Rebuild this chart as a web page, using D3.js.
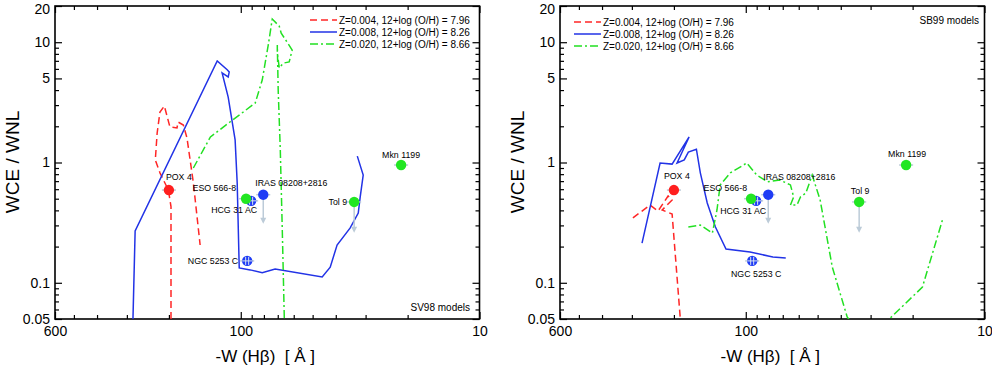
<!DOCTYPE html>
<html>
<head>
<meta charset="utf-8">
<script src="https://cdn.jsdelivr.net/npm/d3@7"></script>
<style>
body { margin: 0; background: #fff; }
svg { display: block; font-family: "Liberation Sans", Arial, sans-serif; }
</style>
</head>
<body>
<svg></svg>
<script>
// galaxies (same in both panels)
var galaxies = ['POX 4', 'ESO 566-8', 'HCG 31 AC', 'IRAS 08208+2816', 'NGC 5253 C', 'Tol 9', 'Mkn 1199'];
var galaxyEW = [200, 95, 90.5, 80.5, 94, 33.5, 21.3];
var galaxyRatio = [0.59, 0.50, 0.48, 0.54, 0.152, 0.47, 0.953];
var galaxyZ = ['Z004', 'Z020', 'Z008', 'Z008', 'Z008', 'Z020', 'Z020'];
var galaxyLimit = [null, null, null, 0.31, null, 0.26, null]; // upper limits -> arrow down to

var legendLabels = ['Z=0.004, 12+log (O/H) = 7.96', 'Z=0.008, 12+log (O/H) = 8.26', 'Z=0.020, 12+log (O/H) = 8.66'];
var xTickLabels = [600, 100, 10];
var yTickLabels = [20, 10, 5, 1, 0.1, 0.05];

// model tracks [ -W(Hb), WCE/WNL ]
var sv98Z004 = [[196,0.05],[196,0.43],[201,0.59],[218,0.82],[228,1.05],[224,1.76],[218,2.63],[209,2.95],[198,1.97],[185,1.94],[183,2.17],[174,2.05],[168,1.6],[158,0.68],[148,0.206]];
var sv98Z008 = [[283,0.048],[277,0.27],[125.5,6.98],[114,5.9],[111.8,5.65],[112.9,5.14],[119.7,5.55],[112.9,3.5],[105.6,1.54],[103.5,0.675],[101.5,0.133],[91.3,0.128],[81.3,0.121],[71.8,0.130],[45.6,0.112],[42.2,0.135],[39.5,0.206],[34.8,0.286],[32.2,0.38],[31.6,0.517],[30.7,0.787],[32.5,1.13]];
var sv98Z020 = [[158,0.90],[134,1.63],[111,2.17],[87,3.12],[81.3,4.85],[76.7,9.5],[73.8,15.6],[69,13.6],[67.7,11.9],[60.9,8.6],[62.7,6.85],[66.4,6.7],[69,6.1],[70.3,8.3],[70.3,9.5],[69.7,4.0],[68.3,1.27],[67,0.275],[65.7,0.05]];

var sb99Z004 = [[297,0.346],[252,0.443],[233,0.395],[211.5,0.527],[203.5,0.488],[224,0.403],[203.5,0.373],[188,0.05]];
var sb99Z008 = [[272,0.214],[228.5,0.99],[203.5,0.97],[172.7,1.63],[194,0.99],[181,1.05],[174,1.22],[161,1.29],[155,0.82],[145,0.461],[134,0.291],[121,0.191],[96,0.180],[77,0.164],[68,0.161]];
var sb99Z020 = [[174,0.291],[155,0.302],[138,0.259],[132,0.403],[128,0.651],[116,0.82],[99,0.99],[90,0.787],[81,0.69],[72,0.716],[65,0.651],[63,0.517],[65,0.443],[61,0.443],[59,0.517],[56,0.558],[52.7,0.787],[48.8,0.488],[43.4,0.135],[37.6,0.052],[30.7,0.03],[24.8,0.051],[18.2,0.092],[15,0.333]];

var colors = { Z004: '#ff2626', Z008: '#2233e6', Z020: '#22e022' };
var dotColors = { Z004: '#ff1f1f', Z008: '#1f3cf5', Z020: '#22e622' };
var dashes = { Z004: '7,4', Z008: null, Z020: '8,3,2,3' };
var zKeys = ['Z004', 'Z008', 'Z020'];

var svgWidth = 992, svgHeight = 365;
var plotW = 424.5, plotH = 313;

var svg = d3.select('svg')
    .attr('width', svgWidth)
    .attr('height', svgHeight);

var x = d3.scaleLog().domain([600, 10]).range([0, plotW]);
var y = d3.scaleLog().domain([0.05, 20]).range([plotH, 0]);

var xMinor = [500, 400, 300, 200, 90, 80, 70, 60, 50, 40, 30, 20];
var yMinor = [9, 8, 7, 6, 4, 3, 2, 0.9, 0.8, 0.7, 0.6, 0.5, 0.4, 0.3, 0.2, 0.09, 0.08, 0.07, 0.06];

var line = d3.line()
    .x(function(d) { return x(d[0]); })
    .y(function(d) { return y(d[1]); });

// label offsets for each panel: [dx, dy, anchor]
var labelsSV98 = {
    'POX 4': [-3, -10, 'start'], 'ESO 566-8': [-10, -8, 'end'], 'HCG 31 AC': [6, 12, 'end'],
    'IRAS 08208+2816': [-8, -9, 'start'], 'NGC 5253 C': [-9, 3, 'end'], 'Tol 9': [-7, 3, 'end'],
    'Mkn 1199': [0, -7, 'middle']
};
var labelsSB99 = {
    'POX 4': [-10, -11, 'start'], 'ESO 566-8': [-4, -8, 'end'], 'HCG 31 AC': [10, 13, 'end'],
    'IRAS 08208+2816': [-5, -15, 'start'], 'NGC 5253 C': [4, 16, 'middle'], 'Tol 9': [1, -8, 'middle'],
    'Mkn 1199': [1, -8, 'middle']
};

function drawPanel(id, left, tracks, labelPos, note, noteX, noteY, legY) {
    var g = svg.append('g').attr('transform', 'translate(' + left + ',6)');

    g.append('clipPath').attr('id', 'clip' + id)
        .append('rect').attr('width', plotW).attr('height', plotH);

    // axes: ticks inward on all four sides
    g.append('g').attr('transform', 'translate(0,' + plotH + ')')
        .call(d3.axisBottom(x).tickValues(xTickLabels).tickSize(-7).tickPadding(7).tickFormat(d3.format('d')));
    g.append('g').attr('transform', 'translate(0,' + plotH + ')')
        .call(d3.axisBottom(x).tickValues(xMinor).tickSize(-4).tickFormat(''));
    g.append('g').call(d3.axisTop(x).tickValues(xTickLabels).tickSize(-7).tickFormat(''));
    g.append('g').call(d3.axisTop(x).tickValues(xMinor).tickSize(-4).tickFormat(''));
    var leftAx = g.append('g')
        .call(d3.axisLeft(y).tickValues(yTickLabels).tickSize(-7).tickPadding(5).tickFormat(function(d) { return String(d); }));
    g.append('g').call(d3.axisLeft(y).tickValues(yMinor).tickSize(-4).tickFormat(''));
    g.append('g').attr('transform', 'translate(' + plotW + ',0)')
        .call(d3.axisRight(y).tickValues(yTickLabels).tickSize(-7).tickFormat(''));
    g.append('g').attr('transform', 'translate(' + plotW + ',0)')
        .call(d3.axisRight(y).tickValues(yMinor).tickSize(-4).tickFormat(''));

    g.selectAll('.domain').remove();
    g.selectAll('.tick line').attr('stroke', '#000').attr('stroke-width', 1.2);
    g.selectAll('.tick text').attr('fill', '#000').style('font-size', '14px');
    // keep the top label inside the page
    leftAx.selectAll('.tick text').filter(function(d) { return d === 20; }).attr('dy', '0.5em');

    g.append('rect').attr('width', plotW).attr('height', plotH)
        .attr('fill', 'none').attr('stroke', '#000').attr('stroke-width', 1.6);

    // model tracks
    var tg = g.append('g').attr('clip-path', 'url(#clip' + id + ')');
    zKeys.forEach(function(k, i) {
        tg.append('path')
            .datum(tracks[i])
            .attr('d', line)
            .attr('fill', 'none')
            .attr('stroke', colors[k])
            .attr('stroke-width', 1.5)
            .attr('stroke-dasharray', dashes[k]);
    });

    // galaxies
    var pts = galaxies.map(function(n, i) {
        return { name: n, ew: galaxyEW[i], r: galaxyRatio[i], z: galaxyZ[i], lim: galaxyLimit[i] };
    });
    var errColor = '#bccbd8';

    // upper-limit arrows
    pts.filter(function(d) { return d.lim; }).forEach(function(d) {
        var px = x(d.ew), y0 = y(d.r), y1 = y(d.lim);
        g.append('line').attr('x1', px).attr('x2', px).attr('y1', y0).attr('y2', y1 - 2)
            .attr('stroke', errColor).attr('stroke-width', 1.5);
        g.append('path')
            .attr('d', 'M' + (px - 3) + ',' + (y1 - 6) + 'L' + px + ',' + y1 + 'L' + (px + 3) + ',' + (y1 - 6) + 'Z')
            .attr('fill', errColor);
    });

    // horizontal error bars
    pts.forEach(function(d) {
        g.append('line')
            .attr('x1', x(d.ew * 1.07)).attr('x2', x(d.ew / 1.07))
            .attr('y1', y(d.r)).attr('y2', y(d.r))
            .attr('stroke', errColor).attr('stroke-width', 1.5);
    });

    // draw blue first, green on top (ESO over HCG)
    var order = [2, 4, 3, 0, 1, 5, 6];
    order.forEach(function(i) {
        var d = pts[i];
        var cx = x(d.ew), cy = y(d.r);
        g.append('circle').attr('cx', cx).attr('cy', cy).attr('r', 5.2)
            .attr('fill', dotColors[d.z]);
        if (d.name === 'HCG 31 AC' || d.name === 'NGC 5253 C') {
            g.append('line').attr('x1', cx - 5).attr('x2', cx + 5).attr('y1', cy).attr('y2', cy)
                .attr('stroke', '#d6e2f0').attr('stroke-width', 1);
            [-1.5, 1.5].forEach(function(o) {
                g.append('line').attr('x1', cx + o).attr('x2', cx + o).attr('y1', cy - 4).attr('y2', cy + 4)
                    .attr('stroke', '#d6e2f0').attr('stroke-width', 1);
            });
        }
    });

    pts.forEach(function(d) {
        var p = labelPos[d.name];
        g.append('text')
            .attr('x', x(d.ew) + p[0])
            .attr('y', y(d.r) + p[1])
            .attr('text-anchor', p[2])
            .style('font-size', '8.8px')
            .text(d.name);
    });

    // legend
    var lx = id === 'a' ? 255 : 14;
    zKeys.forEach(function(k, i) {
        var ly = legY + i * 12;
        g.append('line').attr('x1', lx).attr('x2', lx + 27).attr('y1', ly).attr('y2', ly)
            .attr('stroke', colors[k]).attr('stroke-width', 1.5)
            .attr('stroke-dasharray', dashes[k]);
        g.append('text').attr('x', lx + 29).attr('y', ly + 3.5)
            .style('font-size', '10px')
            .text(legendLabels[i]);
    });

    g.append('text').attr('x', noteX).attr('y', noteY)
        .attr('text-anchor', 'end').style('font-size', '10px').text(note);

    // axis titles
    g.append('text')
        .attr('x', plotW / 2 - 2).attr('y', 356)
        .attr('text-anchor', 'middle')
        .style('font-size', '17px')
        .style('white-space', 'pre')
        .text('-W (H\u03b2)  [ \u00c5 ]');
    g.append('text')
        .attr('transform', 'translate(-36,' + 156 + ') rotate(-90)')
        .attr('text-anchor', 'middle')
        .style('font-size', '19px')
        .text('WCE / WNL');
}

drawPanel('a', 55, [sv98Z004, sv98Z008, sv98Z020], labelsSV98, 'SV98 models', 415, 305, 14);
drawPanel('b', 560, [sb99Z004, sb99Z008, sb99Z020], labelsSB99, 'SB99 models', 419, 18, 16);
</script>
</body>
</html>
